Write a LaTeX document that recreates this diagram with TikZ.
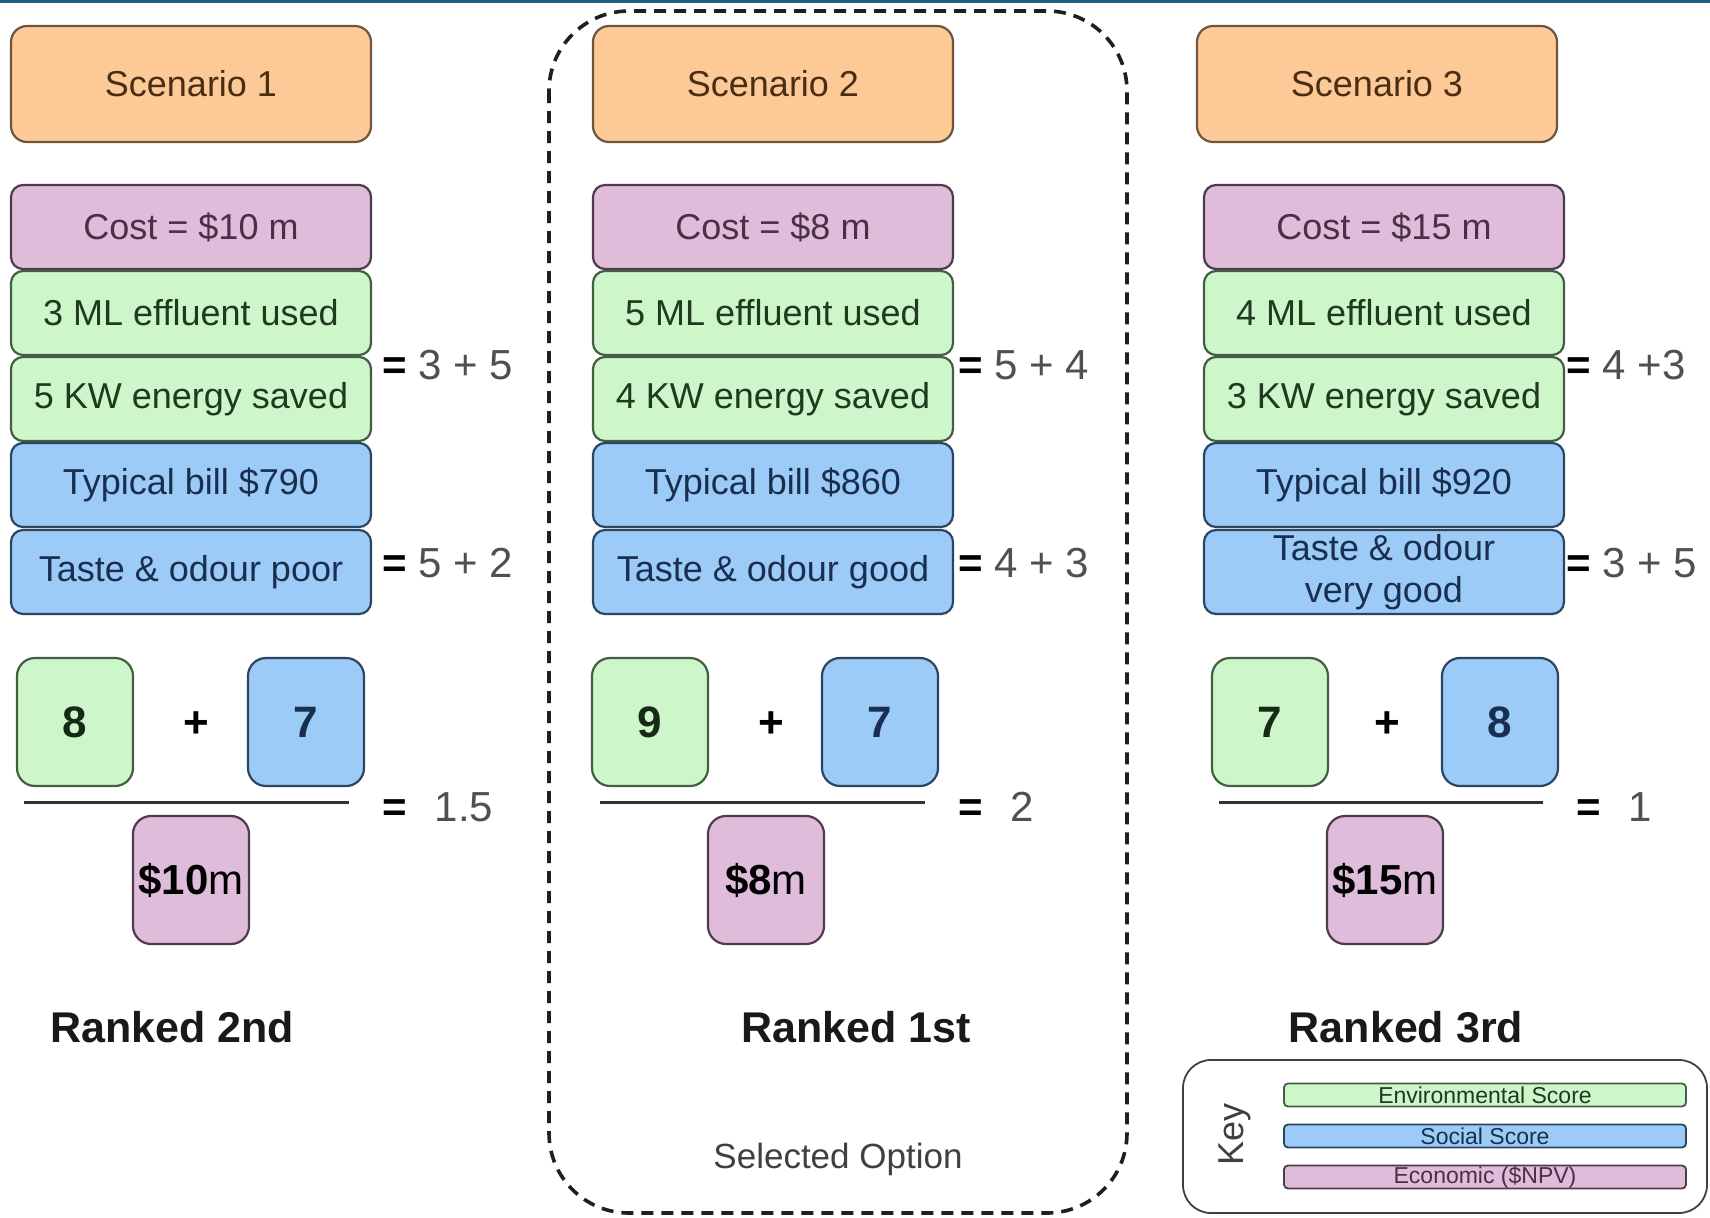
\documentclass[tikz,border=0pt]{standalone}
\usepackage{fontspec}
\setmainfont{Liberation Sans}
\definecolor{orF}{HTML}{FDC996}
\definecolor{orD}{HTML}{6E5540}
\definecolor{orT}{HTML}{4A2E14}
\definecolor{pkF}{HTML}{DFBDDA}
\definecolor{pkD}{HTML}{4E3B4C}
\definecolor{pkT}{HTML}{4B2E48}
\definecolor{grF}{HTML}{CDF6CA}
\definecolor{grD}{HTML}{435E42}
\definecolor{grT}{HTML}{1F3A1F}
\definecolor{blF}{HTML}{9CCBF7}
\definecolor{blD}{HTML}{2C4661}
\definecolor{blT}{HTML}{1A2F4F}
\definecolor{eqT}{HTML}{505050}
\definecolor{topC}{HTML}{1F5E7E}
\begin{document}
\begin{tikzpicture}[x=0.5pt,y=-0.5pt,
  box/.style={draw, line width=1.1pt, rounded corners=6pt, minimum width=180pt, minimum height=42pt, inner sep=0pt, align=center, font=\fontsize{18}{21}\selectfont},
  scen/.style={box, fill=orF, draw=orD, text=orT, minimum height=58pt, rounded corners=8pt},
  cost/.style={box, fill=pkF, draw=pkD, text=pkT},
  env/.style={box, fill=grF, draw=grD, text=grT},
  soc/.style={box, fill=blF, draw=blD, text=blT},
  num/.style={draw, line width=1.1pt, rounded corners=9pt, minimum width=58pt, minimum height=64pt, inner sep=0pt, font=\fontsize{22}{24}\selectfont\bfseries},
  numg/.style={num, fill=grF, draw=grD, text=grT!70!black},
  numb/.style={num, fill=blF, draw=blD, text=blT},
  nump/.style={num, fill=pkF, draw=pkD, text=black, font=\fontsize{21}{24}\selectfont},
  plus/.style={font=\fontsize{22}{24}\selectfont\bfseries, inner sep=0pt},
  eqn/.style={anchor=west, inner sep=0pt, text=eqT, font=\fontsize{21}{24}\selectfont},
  res/.style={anchor=west, inner sep=0pt, text=eqT, font=\fontsize{21}{24}\selectfont},
  rank/.style={font=\fontsize{21.5}{24}\selectfont\bfseries, text=black!90, inner sep=0pt},
  frac/.style={line width=1.5pt, draw=black!80},
  keybar/.style={draw, line width=0.9pt, rounded corners=2pt, minimum width=201pt, minimum height=11.5pt, inner sep=0pt, font=\fontsize{11.5}{12}\selectfont}
]
\useasboundingbox (0,0) rectangle (1710,1217);
\fill[white] (0,0) rectangle (1710,1217);
\fill[topC] (0,0) rectangle (1710,3);

% selected option frame
\draw[line width=1.8pt, draw=black!88, dash pattern=on 6pt off 4pt, rounded corners=40pt] (549,11) rectangle (1127,1213);

% scenario headers
\node[scen] (s1) at (191,84) {Scenario 1};
\node[scen] (s2) at (773,84) {Scenario 2};
\node[scen] (s3) at (1377,84) {Scenario 3};

% column 1
\node[cost] (c1) at (191,227) {Cost = \$10 m};
\node[env] (e1a) at (191,313) {3 ML effluent used};
\node[env] (e1b) at (191,399) {5 KW energy saved};
\node[soc] (o1a) at (191,485) {Typical bill \$790};
\node[soc] (o1b) at (191,572) {Taste \& odour poor};
% column 2
\node[cost] (c2) at (773,227) {Cost = \$8 m};
\node[env] (e2a) at (773,313) {5 ML effluent used};
\node[env] (e2b) at (773,399) {4 KW energy saved};
\node[soc] (o2a) at (773,485) {Typical bill \$860};
\node[soc] (o2b) at (773,572) {Taste \& odour good};
% column 3
\node[cost] (c3) at (1384,227) {Cost = \$15 m};
\node[env] (e3a) at (1384,313) {4 ML effluent used};
\node[env] (e3b) at (1384,399) {3 KW energy saved};
\node[soc] (o3a) at (1384,485) {Typical bill \$920};
\node[soc] (o3b) at (1384,572) {Taste \& odour\\very good};

% equations
\node[eqn] (q1a) at (382,365) {\textcolor{black}{\bfseries =} 3 + 5};
\node[eqn] (q1b) at (382,563) {\textcolor{black}{\bfseries =} 5 + 2};
\node[eqn] (q2a) at (958,365) {\textcolor{black}{\bfseries =} 5 + 4};
\node[eqn] (q2b) at (958,563) {\textcolor{black}{\bfseries =} 4 + 3};
\node[eqn] (q3a) at (1566,365) {\textcolor{black}{\bfseries =} 4 +3};
\node[eqn] (q3b) at (1566,563) {\textcolor{black}{\bfseries =} 3 + 5};

% fractions column 1
\node[numg] (n1a) at (75,722) {8};
\node[plus] (p1) at (196,725) {+};
\node[numb] (n1b) at (306,722) {7};
\coordinate (l1s) at (24,802);
\coordinate (l1e) at (349,802);
\draw[frac] (l1s) -- (l1e);
\node[nump] (d1) at (191,880) {\textbf{\$10}m};
\node[res] (r1) at (382,807) {\textcolor{black}{\bfseries =}\hspace{14pt}1.5};
% fractions column 2
\node[numg] (n2a) at (650,722) {9};
\node[plus] (p2) at (771,725) {+};
\node[numb] (n2b) at (880,722) {7};
\coordinate (l2s) at (600,802);
\coordinate (l2e) at (925,802);
\draw[frac] (l2s) -- (l2e);
\node[nump] (d2) at (766,880) {\textbf{\$8}m};
\node[res] (r2) at (958,807) {\textcolor{black}{\bfseries =}\hspace{14pt}2};
% fractions column 3
\node[numg] (n3a) at (1270,722) {7};
\node[plus] (p3) at (1387,725) {+};
\node[numb] (n3b) at (1500,722) {8};
\coordinate (l3s) at (1219,802);
\coordinate (l3e) at (1543,802);
\draw[frac] (l3s) -- (l3e);
\node[nump] (d3) at (1385,880) {\textbf{\$15}m};
\node[res] (r3) at (1576,807) {\textcolor{black}{\bfseries =}\hspace{14pt}1};

% ranks
\node[rank] (k1) at (172,1027) {Ranked 2nd};
\node[rank] (k2) at (856,1027) {Ranked 1st};
\node[rank] (k3) at (1406,1027) {Ranked 3rd};

\node[text=black!75, font=\fontsize{17.5}{20}\selectfont, inner sep=0pt] (sel) at (838,1159) {Selected Option};

% key
\draw[line width=0.9pt, draw=black!75, rounded corners=14pt] (1183,1060) rectangle (1707,1213);
\node[rotate=90, font=\fontsize{18}{20}\selectfont, text=black!75, inner sep=0pt] (key) at (1235,1134) {Key};
\node[keybar, fill=grF, draw=grD, text=grT] (kg) at (1485,1095) {Environmental Score};
\node[keybar, fill=blF, draw=blD, text=blT] (kb) at (1485,1136) {Social Score};
\node[keybar, fill=pkF, draw=pkD, text=pkT] (kp) at (1485,1177) {Economic (\$NPV)};
\end{tikzpicture}
\end{document}
